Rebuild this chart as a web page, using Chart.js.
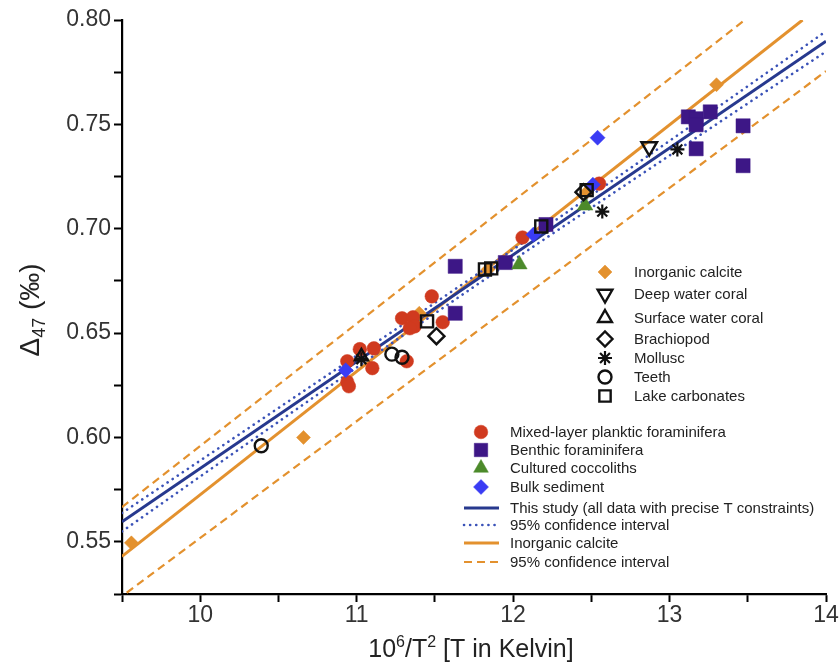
<!DOCTYPE html>
<html>
<head>
<meta charset="utf-8">
<script src="https://cdn.jsdelivr.net/npm/chart.js@4.4.1/dist/chart.umd.min.js"></script>
<style>
html,body{margin:0;padding:0;background:#fff;}
canvas{display:block;}
</style>
</head>
<body>
<canvas id="c" width="839" height="666"></canvas>
<script>
// ---------- data (x = 10^6/T^2, y = Δ47 ‰) ----------
const inorgX = [9.56, 10.66, 11.40, 11.84, 12.47, 13.30];
const inorgY = [0.5495, 0.600, 0.6595, 0.6805, 0.7175, 0.769];

const planktX = [11.48, 11.29, 11.36, 11.37, 11.34, 11.55, 11.02, 11.11, 10.94, 11.10, 11.32, 10.94, 10.95, 12.06, 12.55];
const planktY = [0.6676, 0.6571, 0.6576, 0.6532, 0.6523, 0.6552, 0.6423, 0.6427, 0.6365, 0.6332, 0.6365, 0.6265, 0.6245, 0.6958, 0.7216];

const benthX = [11.63, 11.63, 11.95, 12.21, 13.12, 13.17, 13.17, 13.26, 13.17, 13.47, 13.47];
const benthY = [0.682, 0.6595, 0.6838, 0.702, 0.7536, 0.7527, 0.7498, 0.756, 0.7383, 0.7493, 0.7302];

const coccoX = [12.04, 12.46];
const coccoY = [0.6829, 0.7111];

const bulkX = [10.93, 12.13, 12.51, 12.54];
const bulkY = [0.6322, 0.6972, 0.7211, 0.7436];

const deepCoralX = [12.87];
const deepCoralY = [0.7393];
const surfCoralX = [11.03];
const surfCoralY = [0.6388];
const brachX = [11.51, 12.45];
const brachY = [0.6485, 0.7175];
const molluscX = [13.05, 12.57, 11.03];
const molluscY = [0.738, 0.7082, 0.6375];
const teethX = [10.39, 11.225, 11.29];
const teethY = [0.596, 0.6399, 0.6384];
const lakeX = [11.82, 11.86, 12.18, 12.47, 11.45];
const lakeY = [0.6805, 0.681, 0.7011, 0.7185, 0.6556];

// regression lines
const studyX = [9.5, 14.0];
const studyY = [0.5596, 0.7898];
const studyCiX = [9.5, 10.5, 11.75, 13.0, 14.0];
const studyCiUpY = [0.5638, 0.6141, 0.6772, 0.7421, 0.7946];
const studyCiLoY = [0.5550, 0.6075, 0.6722, 0.7351, 0.7849];
const calciteX = [9.5, 13.85];
const calciteY = [0.5430, 0.8000];
const calciteCiUpX = [9.5, 13.48];
const calciteCiUpY = [0.5666, 0.8000];
const calciteCiLoX = [9.53, 14.0];
const calciteCiLoY = [0.5256, 0.7755];

// axis ticks
const xTickLabels = [10, 11, 12, 13, 14];
const yTickLabels = ['0.55', '0.60', '0.65', '0.70', '0.75', '0.80'];

// ---------- helpers ----------
const pts = (xs, ys) => xs.map((x, i) => ({x: x, y: ys[i]}));

const ORANGE = '#E3912E';
const RED = '#D03A1F';
const PURPLE = '#3D1786';
const GREEN = '#4C8A2B';
const BLUEDIA = '#3A3CF4';
const NAVY = '#27398E';
const DOTBLUE = '#3A52B8';
const BLACK = '#111111';
const FONT = "'Liberation Sans', Arial, Helvetica, sans-serif";

function filled(label, xs, ys, color, style, r, order, rot) {
  return {label, data: pts(xs, ys), pointStyle: style, pointRadius: r, pointHoverRadius: r,
    pointRotation: rot || 0, backgroundColor: color, borderColor: color, pointBorderWidth: 0.5,
    showLine: false, order};
}
function open(label, xs, ys, style, r, order, rot, bw) {
  return {label, data: pts(xs, ys), pointStyle: style, pointRadius: r, pointHoverRadius: r,
    pointRotation: rot || 0, backgroundColor: 'rgba(0,0,0,0)', borderColor: BLACK, pointBorderWidth: bw || 2.4,
    showLine: false, order};
}
function line(label, xs, ys, color, width, dash, cap, order) {
  return {label, data: pts(xs, ys), showLine: true, borderColor: color, borderWidth: width,
    borderDash: dash || [], borderCapStyle: cap || 'butt', pointRadius: 0, pointHoverRadius: 0,
    fill: false, tension: 0, cubicInterpolationMode: 'monotone', order};
}

const datasets = [
  line('95% confidence interval (inorganic, upper)', calciteCiUpX, calciteCiUpY, ORANGE, 2.2, [8, 5], 'butt', 30),
  line('95% confidence interval (inorganic, lower)', calciteCiLoX, calciteCiLoY, ORANGE, 2.2, [8, 5], 'butt', 30),
  line('Inorganic calcite', calciteX, calciteY, ORANGE, 3, [], 'butt', 29),
  line('95% confidence interval (upper)', studyCiX, studyCiUpY, DOTBLUE, 2.6, [0.1, 6], 'round', 28),
  line('95% confidence interval (lower)', studyCiX, studyCiLoY, DOTBLUE, 2.6, [0.1, 6], 'round', 28),
  line('This study', studyX, studyY, NAVY, 3, [], 'butt', 27),
  filled('Inorganic calcite points', inorgX, inorgY, ORANGE, 'rectRot', 7, 20),
  filled('Mixed-layer planktic foraminifera', planktX, planktY, RED, 'circle', 6.8, 19),
  filled('Benthic foraminifera', benthX, benthY, PURPLE, 'rect', 10, 18),
  filled('Cultured coccoliths', coccoX, coccoY, GREEN, 'triangle', 9, 17),
  filled('Bulk sediment', bulkX, bulkY, BLUEDIA, 'rectRot', 7.5, 16),
  open('Deep water coral', deepCoralX, deepCoralY, 'triangle', 9, 6, 180),
  open('Surface water coral', surfCoralX, surfCoralY, 'triangle', 7.5, 6),
  open('Brachiopod', brachX, brachY, 'rectRot', 8, 5),
  open('Mollusc', molluscX, molluscY, 'star', 7, 4, 0, 2.2),
  open('Teeth', teethX, teethY, 'circle', 6.5, 3),
  open('Lake carbonates', lakeX, lakeY, 'rect', 8.5, 2),
];

// ---------- legend & titles plugin ----------
const legend1 = [
  {t: 'Inorganic calcite', style: 'rectRot', r: 7, fill: ORANGE},
  {t: 'Deep water coral', style: 'triangle', r: 8.5, rot: 180},
  {t: 'Surface water coral', style: 'triangle', r: 8},
  {t: 'Brachiopod', style: 'rectRot', r: 7.5},
  {t: 'Mollusc', style: 'star', r: 7},
  {t: 'Teeth', style: 'circle', r: 6.5},
  {t: 'Lake carbonates', style: 'rect', r: 8},
];
const legend1Y = [272, 294, 318, 339, 358, 377, 396];
const legend2 = [
  {t: 'Mixed-layer planktic foraminifera', style: 'circle', r: 6.8, fill: RED},
  {t: 'Benthic foraminifera', style: 'rect', r: 9.5, fill: PURPLE},
  {t: 'Cultured coccoliths', style: 'triangle', r: 8.5, fill: GREEN},
  {t: 'Bulk sediment', style: 'rectRot', r: 7.5, fill: BLUEDIA},
  {t: 'This study (all data with precise T constraints)', line: NAVY, w: 3, dash: []},
  {t: '95% confidence interval', line: DOTBLUE, w: 2.6, dash: [0.1, 6], cap: 'round'},
  {t: 'Inorganic calcite', line: ORANGE, w: 3, dash: []},
  {t: '95% confidence interval', line: ORANGE, w: 2.2, dash: [8, 5]},
];
const legend2Y = [432, 450, 468, 487, 508, 525, 543, 562];

function drawMarker(ctx, it, x, y) {
  ctx.save();
  if (it.fill) { ctx.fillStyle = it.fill; ctx.strokeStyle = it.fill; }
  else { ctx.fillStyle = 'rgba(0,0,0,0)'; ctx.strokeStyle = BLACK; }
  ctx.lineWidth = it.fill ? 0.5 : (it.style === 'star' ? 2.2 : 2.4);
  Chart.helpers.drawPoint(ctx, {pointStyle: it.style, radius: it.r, rotation: it.rot || 0, borderWidth: ctx.lineWidth}, x, y);
  ctx.restore();
}

const decor = {
  id: 'decor',
  afterDraw(chart) {
    const ctx = chart.ctx;
    ctx.save();
    ctx.fillStyle = '#222';
    ctx.textBaseline = 'middle';
    ctx.textAlign = 'left';
    ctx.font = '15px ' + FONT;
    legend1.forEach((it, i) => {
      drawMarker(ctx, it, 605, legend1Y[i]);
      ctx.fillStyle = '#222';
      ctx.fillText(it.t, 634, legend1Y[i] + 0.5);
    });
    legend2.forEach((it, i) => {
      const y = legend2Y[i];
      if (it.line) {
        ctx.save();
        ctx.strokeStyle = it.line; ctx.lineWidth = it.w; ctx.setLineDash(it.dash);
        ctx.lineCap = it.cap || 'butt';
        ctx.beginPath(); ctx.moveTo(464, y); ctx.lineTo(499, y); ctx.stroke();
        ctx.restore();
      } else {
        drawMarker(ctx, it, 481, y);
      }
      ctx.fillStyle = '#222';
      ctx.fillText(it.t, 510, y + 0.5);
    });

    // x-axis title: 10^6/T^2 [T in Kelvin]
    ctx.fillStyle = '#222';
    ctx.textBaseline = 'alphabetic';
    const big = '25px ' + FONT, small = '16px ' + FONT;
    const parts = [['10', big, 0], ['6', small, -10], ['/T', big, 0], ['2', small, -10], [' [T in Kelvin]', big, 0]];
    let total = 0;
    parts.forEach(p => { ctx.font = p[1]; total += ctx.measureText(p[0]).width; });
    let x = 471 - total / 2;
    const base = 657;
    parts.forEach(p => { ctx.font = p[1]; ctx.fillText(p[0], x, base + p[2]); x += ctx.measureText(p[0]).width; });

    // y-axis title: Δ47 (‰)
    ctx.save();
    ctx.translate(39, 310);
    ctx.rotate(-Math.PI / 2);
    const bigY = '28px ' + FONT, smallY = '18px ' + FONT;
    const yparts = [['Δ', bigY, 0], ['47', smallY, 6], [' (‰)', bigY, 0]];
    total = 0;
    yparts.forEach(p => { ctx.font = p[1]; total += ctx.measureText(p[0]).width; });
    x = -total / 2;
    yparts.forEach(p => { ctx.font = p[1]; ctx.fillText(p[0], x, p[2]); x += ctx.measureText(p[0]).width; });
    ctx.restore();
    ctx.restore();
  }
};

const isMajorY = v => yTickLabels.includes(v.toFixed(2)) && Math.abs(Math.round(v * 1000) % 50) === 0;

new Chart(document.getElementById('c'), {
  type: 'scatter',
  data: {datasets},
  plugins: [decor],
  options: {
    responsive: false,
    animation: false,
    devicePixelRatio: 1,
    layout: {padding: {left: 0, top: 20, right: 13, bottom: 0}},
    plugins: {legend: {display: false}, tooltip: {enabled: false}},
    scales: {
      x: {
        type: 'linear', min: 9.5, max: 14,
        afterFit(s) { s.height = 72; },
        border: {color: '#000', width: 2.2},
        grid: {drawOnChartArea: false, tickLength: 8, tickColor: '#000', tickWidth: 2},
        ticks: {
          stepSize: 0.5, autoSkip: false, maxRotation: 0, padding: 0,
          color: '#333', font: {family: FONT, size: 23},
          callback: v => xTickLabels.includes(v) ? String(v) : ''
        }
      },
      y: {
        type: 'linear', min: 0.525, max: 0.80,
        afterFit(s) { s.width = 122; },
        border: {color: '#000', width: 2.2},
        grid: {drawOnChartArea: false, tickLength: 8, tickColor: '#000', tickWidth: 2},
        ticks: {
          stepSize: 0.025, autoSkip: false, padding: 3,
          color: '#333', font: {family: FONT, size: 23},
          callback: v => isMajorY(v) ? v.toFixed(2) : ''
        }
      }
    }
  }
});
</script>
</body>
</html>
